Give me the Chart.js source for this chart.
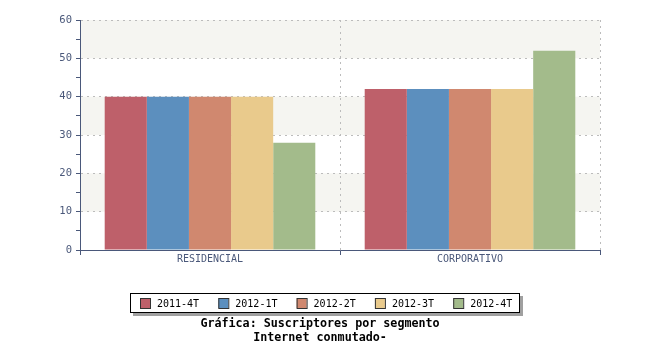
<!DOCTYPE html>
<html>
<head>
<meta charset="utf-8">
<script src="https://cdn.jsdelivr.net/npm/chart.js@4.4.1/dist/chart.umd.min.js"></script>
<style>
  html, body { margin: 0; padding: 0; background: #ffffff; }
  #wrap { width: 650px; height: 350px; position: relative; }
</style>
</head>
<body>
<div id="wrap"><canvas id="chart" width="650" height="350"></canvas></div>
<script>
const categories = ["RESIDENCIAL", "CORPORATIVO"];
const seriesNames = ["2011-4T", "2012-1T", "2012-2T", "2012-3T", "2012-4T"];
const q2011_4 = [40, 42];
const q2012_1 = [40, 42];
const q2012_2 = [40, 42];
const q2012_3 = [40, 42];
const q2012_4 = [28, 52];
const seriesColors = ["#be606a", "#5c8fbe", "#d0886f", "#e9ca8c", "#a3bb8b"];
const titleLines = ["Gráfica: Suscriptores por segmento", "Internet conmutado-"];

const axisColor = "#4a587a";
const gridColor = "#bcbcbc";
const bandColor = "#f5f5f1";
const mono = "'DejaVu Sans Mono', monospace";

const allValues = [q2011_4, q2012_1, q2012_2, q2012_3, q2012_4];

// shaded horizontal bands 10-20, 30-40, 50-60
const bandsPlugin = {
  id: "bands",
  beforeDraw(chart) {
    const { ctx, chartArea, scales } = chart;
    const y = scales.y;
    ctx.save();
    ctx.fillStyle = bandColor;
    for (let v = 10; v < 60; v += 20) {
      const top = y.getPixelForValue(v + 10);
      const bottom = y.getPixelForValue(v);
      ctx.fillRect(chartArea.left, top, chartArea.right - chartArea.left, bottom - top);
    }
    ctx.restore();
  },
};

// boxed legend with shadow, and two-line caption below
const footerPlugin = {
  id: "footer",
  afterDraw(chart) {
    const ctx = chart.ctx;
    const bx = 130, by = 293, bw = 390, bh = 20;
    ctx.save();
    ctx.fillStyle = "#a0a0a0";
    ctx.fillRect(bx + 3, by + 3, bw, bh);
    ctx.fillStyle = "#ffffff";
    ctx.fillRect(bx, by, bw, bh);
    ctx.strokeStyle = "#000000";
    ctx.lineWidth = 1;
    ctx.strokeRect(bx + 0.5, by + 0.5, bw - 1, bh - 1);

    ctx.font = "10px " + mono;
    ctx.textBaseline = "middle";
    ctx.textAlign = "left";
    chart.data.datasets.forEach((ds, i) => {
      const x = 140 + i * 78.3;
      ctx.fillStyle = ds.backgroundColor;
      ctx.fillRect(x, 298, 10, 10);
      ctx.strokeStyle = "#333333";
      ctx.strokeRect(x + 0.5, 298.5, 10, 10);
      ctx.fillStyle = "#000000";
      ctx.fillText(ds.label, x + 17, 304);
    });

    ctx.font = "bold 11.7px " + mono;
    ctx.textAlign = "center";
    ctx.fillText(titleLines[0], 320, 324);
    ctx.fillText(titleLines[1], 320, 338);
    ctx.restore();
  },
};

const datasets = seriesNames.map((name, i) => ({
  label: name,
  data: allValues[i],
  backgroundColor: seriesColors[i],
  borderWidth: 0,
}));

new Chart(document.getElementById("chart"), {
  type: "bar",
  data: { labels: categories, datasets },
  options: {
    responsive: false,
    animation: false,
    events: [],
    layout: { padding: { left: 0, right: 50, top: 20, bottom: 0 } },
    plugins: { legend: { display: false }, tooltip: { enabled: false }, title: { display: false } },
    datasets: { bar: { barPercentage: 1, categoryPercentage: 0.81 } },
    scales: {
      x: {
        offset: true,
        grid: {
          offset: true,
          color: gridColor,
          tickColor: axisColor,
          tickLength: 5,
        },
        border: { color: axisColor, width: 1, dash: [2, 4] },
        ticks: {
          color: axisColor,
          font: { family: mono, size: 10 },
          padding: -2,
          maxRotation: 0,
        },
        afterFit(scale) { scale.height = 100; },
      },
      y: {
        min: 0,
        max: 60,
        grid: {
          color: (c) => (c.tick && c.tick.value % 10 === 0 ? gridColor : "rgba(0,0,0,0)"),
          tickColor: axisColor,
          tickLength: 4,
        },
        border: { color: axisColor, width: 1, dash: [2, 4] },
        ticks: {
          stepSize: 5,
          color: axisColor,
          font: { family: mono, size: 10.5 },
          padding: 4,
          callback: (v) => (v % 10 === 0 ? v : ""),
        },
        afterFit(scale) { scale.width = 80; },
      },
    },
  },
  plugins: [bandsPlugin, footerPlugin],
});
</script>
</body>
</html>
